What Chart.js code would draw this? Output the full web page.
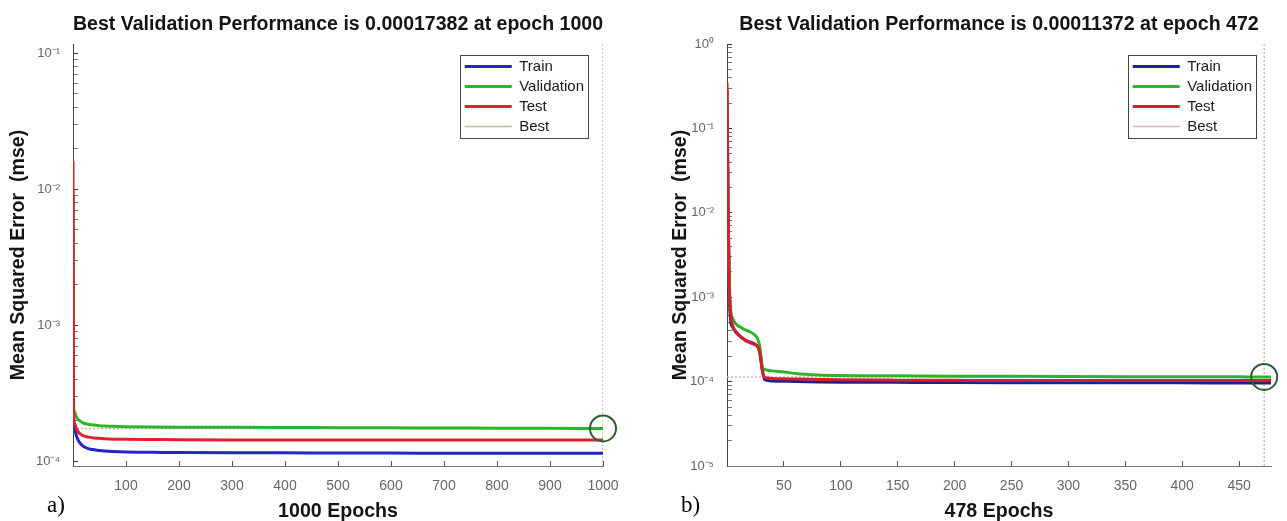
<!DOCTYPE html>
<html>
<head>
<meta charset="utf-8">
<script src="https://cdn.jsdelivr.net/npm/chart.js@4.4.1/dist/chart.umd.min.js"></script>
<style>
  html, body { margin: 0; padding: 0; background: #fff; }
  #wrap { position: relative; width: 1287px; height: 521px; overflow: hidden; }
  .box { position: absolute; top: 0; height: 521px; }
  #boxA { left: 0; width: 643px; }
  #boxB { left: 643px; width: 644px; }
  .tag { position: absolute; font-family: "Liberation Serif", "Times New Roman", serif; font-size: 23px; line-height: 1; color: #000; }
</style>
</head>
<body>
<div id="wrap">
  <div class="box" id="boxA"><canvas id="chartA"></canvas></div>
  <div class="box" id="boxB"><canvas id="chartB"></canvas></div>
  <div class="tag" style="left:47px; top:493px;">a)</div>
  <div class="tag" style="left:681px; top:493px;">b)</div>
</div>
<script>
// ---- chart a) : 1000 epochs ----
const epochsA = [0, 1, 3, 6, 10, 15, 20, 30, 40, 50, 60, 75, 100, 150, 200, 300, 400, 500, 600, 700, 800, 900, 1000];
const trainA = [0.009, 2.1e-4, 1.75e-4, 1.55e-4, 1.42e-4, 1.33e-4, 1.28e-4, 1.23e-4, 1.21e-4, 1.195e-4, 1.185e-4, 1.175e-4,
  1.165e-4, 1.16e-4, 1.155e-4, 1.15e-4, 1.15e-4, 1.145e-4, 1.145e-4, 1.14e-4, 1.14e-4, 1.14e-4, 1.14e-4];
const validA = [0.010, 2.6e-4, 2.3e-4, 2.12e-4, 2.02e-4, 1.95e-4, 1.9e-4, 1.86e-4, 1.84e-4, 1.82e-4, 1.81e-4, 1.8e-4,
  1.79e-4, 1.78e-4, 1.775e-4, 1.77e-4, 1.765e-4, 1.76e-4, 1.755e-4, 1.75e-4, 1.745e-4, 1.74e-4, 1.7382e-4];
const testA = [0.016, 2.2e-4, 1.9e-4, 1.75e-4, 1.64e-4, 1.57e-4, 1.53e-4, 1.5e-4, 1.48e-4, 1.47e-4, 1.46e-4, 1.45e-4,
  1.445e-4, 1.44e-4, 1.435e-4, 1.43e-4, 1.43e-4, 1.43e-4, 1.43e-4, 1.43e-4, 1.43e-4, 1.43e-4, 1.43e-4];
const bestEpochA = 1000;
const bestValueA = 0.00017382;
const xTicksA = [100, 200, 300, 400, 500, 600, 700, 800, 900, 1000];
const yDecadesA = [1e-4, 1e-3, 1e-2, 1e-1];
const yRangeA = [9.2e-5, 0.1165];

// ---- chart b) : 478 epochs ----
const epochsB = [0, 1, 2, 3, 5, 8, 12, 16, 20, 24, 27, 29, 31, 33, 36, 40, 50, 60, 80, 100, 150, 200, 250, 300, 350, 400, 450, 472, 478];
const trainB = [0.28, 0.009, 1.2e-3, 5.5e-4, 4.4e-4, 3.8e-4, 3.4e-4, 3.1e-4, 2.95e-4, 2.8e-4, 2.6e-4, 2.2e-4, 1.4e-4, 1.06e-4,
  1.03e-4, 1.02e-4, 1.01e-4, 1.0e-4, 9.9e-5, 9.85e-5, 9.8e-5, 9.75e-5, 9.72e-5, 9.7e-5, 9.68e-5, 9.66e-5, 9.65e-5, 9.64e-5, 9.64e-5];
const validB = [0.30, 0.010, 1.5e-3, 7.5e-4, 5.6e-4, 4.8e-4, 4.4e-4, 4.1e-4, 3.9e-4, 3.6e-4, 3.2e-4, 2.5e-4, 1.5e-4, 1.4e-4,
  1.36e-4, 1.34e-4, 1.3e-4, 1.25e-4, 1.2e-4, 1.18e-4, 1.17e-4, 1.16e-4, 1.155e-4, 1.15e-4, 1.145e-4, 1.14e-4, 1.138e-4, 1.1372e-4, 1.1376e-4];
const testB = [0.35, 0.012, 1.4e-3, 7e-4, 4.6e-4, 3.9e-4, 3.4e-4, 3.1e-4, 2.9e-4, 2.75e-4, 2.6e-4, 2.1e-4, 1.35e-4, 1.12e-4,
  1.1e-4, 1.09e-4, 1.08e-4, 1.07e-4, 1.06e-4, 1.05e-4, 1.04e-4, 1.035e-4, 1.03e-4, 1.03e-4, 1.03e-4, 1.03e-4, 1.03e-4, 1.03e-4, 1.03e-4];
const bestEpochB = 472;
const bestValueB = 0.00011372;
const xTicksB = [50, 100, 150, 200, 250, 300, 350, 400, 450];
const yDecadesB = [1e-5, 1e-4, 1e-3, 1e-2, 1e-1, 1];
const yRangeB = [1e-5, 1];

const FONT = '"Liberation Sans", Arial, Helvetica, sans-serif';
Chart.defaults.font.family = FONT;

const SUP = { '-': '\u207B', '0': '\u2070', '1': '\u00B9', '2': '\u00B2', '3': '\u00B3', '4': '\u2074', '5': '\u2075' };
function powLabel(v) {
  const e = Math.round(Math.log10(v));
  if (Math.abs(Math.log10(v) - e) > 1e-6) return '';
  return '10' + String(e).split('').map(c => SUP[c]).join('');
}

function logTicks(decades, range) {
  const out = [];
  decades.concat([decades[0] / 10]).forEach(d => {
    for (let k = 1; k <= 9; k++) {
      const v = k * d;
      if (v >= range[0] * 0.999 && v <= range[1] * 1.001) out.push(v);
    }
  });
  return out.sort((a, b) => a - b);
}

function pts(xs, ys) {
  return xs.map((x, i) => ({ x: x, y: ys[i] }));
}

// moves the legend to the top-right corner of the plot and frames it
const legendFrame = {
  id: 'legendFrame',
  afterLayout(chart) {
    const lg = chart.legend, a = chart.chartArea;
    if (!lg) return;
    const pad = lg.options.labels.padding;
    const colW = lg.width - pad - 10;
    lg.left = a.right - 19 - colW - pad;
    lg.right = lg.left + lg.width;
    lg.top = a.top + 15 - pad;
    lg.bottom = a.bottom;
  },
  afterDraw(chart) {
    const hb = chart.legend && chart.legend.legendHitBoxes;
    if (!hb || !hb.length) return;
    const last = hb[hb.length - 1];
    const left = hb[0].left - 5;
    const top = hb[0].top - 4;
    const right = Math.max(...hb.map(h => h.left + h.width)) + 4;
    const bottom = last.top + last.height + 4;
    const ctx = chart.ctx;
    ctx.save();
    ctx.strokeStyle = '#444';
    ctx.lineWidth = 1;
    ctx.strokeRect(Math.round(left) + 0.5, Math.round(top) + 0.5, Math.round(right - left), Math.round(bottom - top));
    ctx.restore();
  }
};

function makeChart(id, o) {
  const yTicks = logTicks(o.decades, o.yRange);
  const xMax = o.epochs[o.epochs.length - 1];
  return new Chart(document.getElementById(id), {
    type: 'line',
    data: {
      datasets: [
        {
          label: 'Train', data: pts(o.epochs, o.train), borderColor: o.colors[0], backgroundColor: o.colors[0],
          borderWidth: 3, pointRadius: 0, cubicInterpolationMode: 'monotone', order: 3
        },
        {
          label: 'Validation', data: pts(o.epochs, o.valid), borderColor: o.colors[1], backgroundColor: o.colors[1],
          borderWidth: 3, pointRadius: 0, cubicInterpolationMode: 'monotone', order: 2
        },
        {
          label: 'Test', data: pts(o.epochs, o.test), borderColor: o.colors[2], backgroundColor: o.colors[2],
          borderWidth: 3, pointRadius: 0, cubicInterpolationMode: 'monotone', order: 1
        },
        {
          label: 'Best',
          data: [
            { x: o.bestEpoch, y: o.yRange[0] }, { x: o.bestEpoch, y: o.yRange[1] }, { x: o.bestEpoch, y: null },
            { x: 0, y: o.bestValue }, { x: xMax, y: o.bestValue }
          ],
          borderColor: o.colors[3], backgroundColor: o.colors[3], borderWidth: 1.5, borderDash: [2, 2],
          pointRadius: 0, spanGaps: false, order: 4
        },
        {
          label: 'best point', data: [{ x: o.bestEpoch, y: o.bestValue }], showLine: false,
          pointRadius: 13, pointBorderWidth: 2, pointBorderColor: '#2e5e34', pointBackgroundColor: 'rgba(0,0,0,0)',
          clip: false, order: 0
        }
      ]
    },
    options: {
      responsive: true,
      maintainAspectRatio: false,
      animation: false,
      events: [],
      layout: { padding: { left: 0, top: 0, bottom: 0, right: o.rightPad } },
      plugins: {
        title: {
          display: true, text: o.title, fullSize: false, color: '#141414',
          font: { size: 19.6, weight: 'bold', lineHeight: 1.2 },
          padding: { top: 13.2, bottom: 7.3 }
        },
        legend: {
          position: 'chartArea',
          align: 'start',
          labels: {
            usePointStyle: true, pointStyle: 'line', pointStyleWidth: 47,
            color: '#1a1a1a', font: { size: 15 }, padding: 5,
            filter: item => item.datasetIndex < 4,
            sort: (a, b) => a.datasetIndex - b.datasetIndex
          }
        },
        tooltip: { enabled: false }
      },
      scales: {
        x: {
          type: 'linear', min: 0, max: xMax,
          afterBuildTicks: s => { s.ticks = o.xTicks.map(v => ({ value: v })); },
          afterFit: s => { s.height = 55; },
          ticks: { color: '#666', font: { size: 14 }, padding: 17, maxRotation: 0, autoSkip: false, callback: v => String(v) },
          grid: { drawOnChartArea: false, drawTicks: true, tickLength: -5, tickColor: '#555' },
          border: { display: true, color: '#777', width: 1 },
          title: {
            display: true, text: o.xTitle, color: '#141414',
            font: { size: 19.6, weight: 'bold', lineHeight: 1 }, padding: { top: 0, bottom: 0 }
          }
        },
        y: {
          type: 'logarithmic', min: o.yRange[0], max: o.yRange[1],
          afterBuildTicks: s => { s.ticks = yTicks.map(v => ({ value: v })); },
          afterFit: s => { s.width = o.yWidth; },
          ticks: { color: '#666', font: { size: 13 }, padding: 18, autoSkip: false, callback: v => powLabel(v) },
          grid: {
            drawOnChartArea: false, drawTicks: true, tickLength: -5,
            tickColor: c => (c.tick && powLabel(c.tick.value) ? '#333' : '#777')
          },
          border: { display: true, color: '#444', width: 1 },
          title: {
            display: true, text: 'Mean Squared Error  (mse)', color: '#141414',
            font: { size: 19.6, weight: 'bold', lineHeight: 1.2 }, padding: { top: o.yTitlePad, bottom: 0 }
          }
        }
      }
    },
    plugins: [legendFrame]
  });
}

makeChart('chartA', {
  epochs: epochsA, train: trainA, valid: validA, test: testA,
  bestEpoch: bestEpochA, bestValue: bestValueA,
  xTicks: xTicksA, decades: yDecadesA, yRange: yRangeA,
  title: 'Best Validation Performance is 0.00017382 at epoch 1000',
  xTitle: '1000 Epochs',
  yWidth: 73, yTitlePad: 7, rightPad: 40,
  colors: ['#2424c8', '#2cb52c', '#e0202a', '#b9bc9c']
});

makeChart('chartB', {
  epochs: epochsB, train: trainB, valid: validB, test: testB,
  bestEpoch: bestEpochB, bestValue: bestValueB,
  xTicks: xTicksB, decades: yDecadesB, yRange: yRangeB,
  title: 'Best Validation Performance is 0.00011372 at epoch 472',
  xTitle: '478 Epochs',
  yWidth: 84, yTitlePad: 26, rightPad: 16,
  colors: ['#202090', '#2cb52c', '#d4202a', '#d6b4b0']
});
</script>
</body>
</html>
